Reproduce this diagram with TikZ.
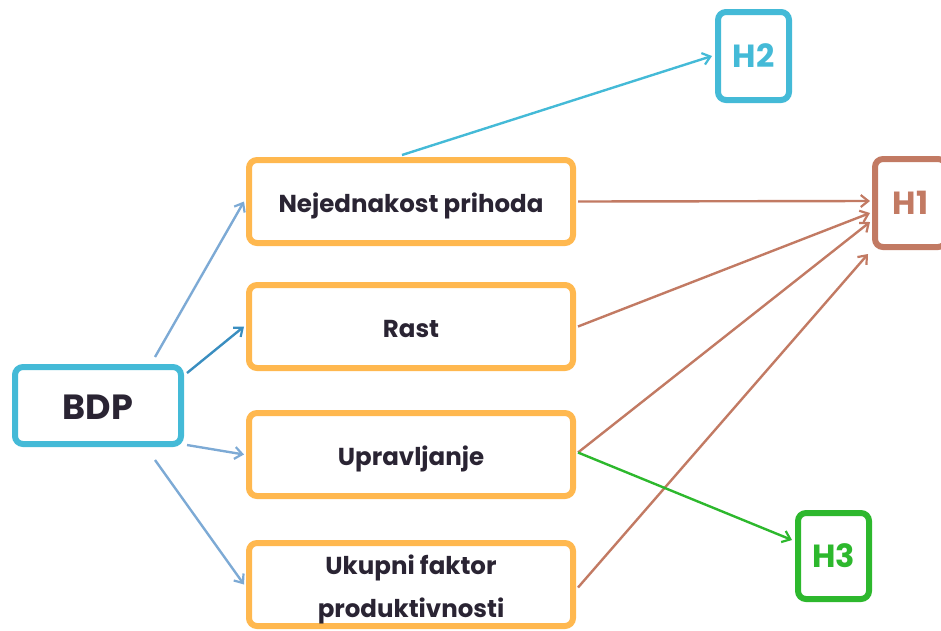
\documentclass[tikz,border=0pt]{standalone}
\usepackage{fontspec}
\setmainfont{Poppins}
\usetikzlibrary{arrows.meta}
\definecolor{cyanb}{HTML}{44BAD7}
\definecolor{orng}{HTML}{FFB84F}
\definecolor{brwn}{HTML}{C27A63}
\definecolor{grn}{HTML}{2DB82D}
\definecolor{lblue}{HTML}{7DAAD5}
\definecolor{dblue}{HTML}{3A8EC0}
\definecolor{txt}{HTML}{2A2433}
\newcommand{\lowr}[2]{\raisebox{-#1}[\height][\depth]{#2}}
\begin{document}
\begin{tikzpicture}[x=1pt,y=-1pt,
  box/.style={draw, line width=6pt, rounded corners=8pt, fill=white, text=txt, font=\bfseries, inner sep=0pt},
  midbox/.style={box, draw=orng, minimum width=324pt, minimum height=83pt, font=\bfseries\fontsize{24.5}{43}\selectfont},
  hbox/.style={box, minimum width=71pt, minimum height=88pt, font=\bfseries\fontsize{32}{34}\selectfont},
  conn/.style={line width=2.4pt, -{Straight Barb[length=7.5pt,width=12pt,line width=2.2pt]}}
]
\useasboundingbox (0,0) rectangle (941,630);
\node[box, draw=cyanb, minimum width=166pt, minimum height=77pt, font=\bfseries\fontsize{35}{38}\selectfont] (bdp) at (98,405.5) {\lowr{2pt}{BDP}};
\node[midbox] (nej) at (411,201.5) {\lowr{4pt}{Nejednakost prihoda}};
\node[midbox] (rast) at (411,326.5) {\lowr{2pt}{Rast}};
\node[midbox] (upr) at (411,454.5) {\lowr{4pt}{Upravljanje}};
\node[midbox] (uk) at (411,584.5) {\lowr{5pt}{\parbox{300pt}{\centering Ukupni faktor\\produktivnosti}}};
\node[hbox, draw=cyanb, text=cyanb] (h2) at (753.5,56) {H2};
\node[hbox, draw=brwn, text=brwn] (h1) at (910.5,203) {H1};
\node[hbox, draw=grn, text=grn, minimum height=86pt] (h3) at (833.5,556) {H3};

\draw[conn, lblue] ([xshift=-29pt,yshift=7pt]bdp.north east) -- ([xshift=-2pt]nej.west);
\draw[conn, dblue] ([xshift=3pt,yshift=-9pt]bdp.north east) -- ([xshift=-2pt]rast.west);
\draw[conn, lblue] ([xshift=3pt,yshift=2pt]bdp.south east) -- ([xshift=-2pt]upr.west);
\draw[conn, lblue] ([xshift=-29pt,yshift=-13pt]bdp.south east) -- ([xshift=-2pt]uk.west);
\draw[conn, cyanb] ([xshift=-9pt,yshift=2pt]nej.north) -- ([xshift=-3pt]h2.west);
\draw[conn, brwn] ([xshift=2pt]nej.east) -- ([xshift=-2pt,yshift=2pt]h1.west);
\draw[conn, brwn] ([xshift=2pt]rast.east) -- ([xshift=-2pt,yshift=-10pt]h1.west);
\draw[conn, brwn] ([xshift=2pt,yshift=2pt]upr.east) -- ([xshift=-2pt,yshift=-19pt]h1.west);
\draw[conn, brwn] ([xshift=2pt,yshift=-3pt]uk.east) -- ([xshift=-4pt,yshift=-4pt]h1.south west);
\draw[conn, grn] ([xshift=2pt,yshift=2pt]upr.east) -- ([xshift=-3pt,yshift=16pt]h3.west);
\end{tikzpicture}
\end{document}
